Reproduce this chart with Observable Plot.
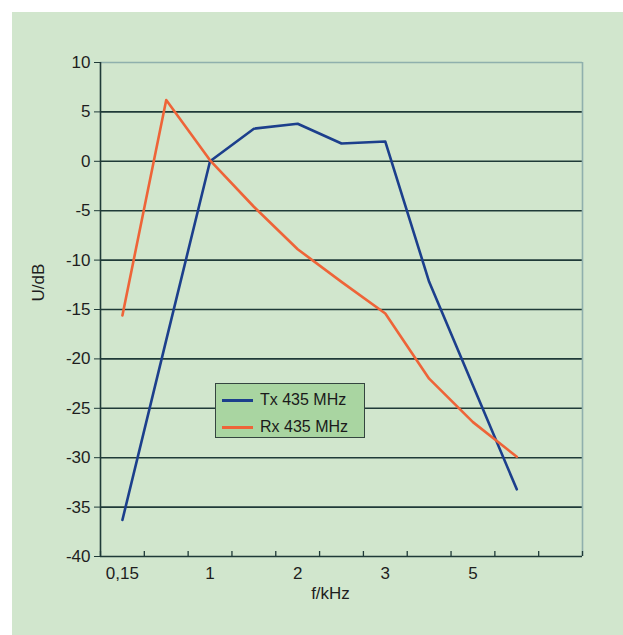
<!DOCTYPE html>
<html><head><meta charset="utf-8">
<script src="https://cdn.jsdelivr.net/npm/d3@7"></script>
<script src="https://cdn.jsdelivr.net/npm/@observablehq/plot@0.6"></script>
<style>
html,body{margin:0;padding:0;background:#fff;}
#wrap{position:relative;width:623px;height:635px;overflow:hidden;}
#panel{position:absolute;left:12px;top:12px;width:611px;height:623px;background:#d1e6cd;}
#chart{position:absolute;left:0;top:0;}
#legend{position:absolute;left:215px;top:383px;width:150px;height:55px;background:#a9d5a1;border:1.5px solid #34453f;font:16px "Liberation Sans",Arial,sans-serif;color:#1a1a1a;box-sizing:border-box;}
.item{position:absolute;left:6px;height:22px;display:flex;align-items:center;white-space:nowrap;}
.swatch{width:31px;height:3px;margin-right:7px;}
</style></head>
<body>
<div id="wrap"><div id="panel"></div><div id="chart"></div><div id="legend"></div></div>
<script>
// categories (x positions 0..10) and their tick labels
const categories = [0,1,2,3,4,5,6,7,8,9,10];
const tickLabels = ["0,15","","1","","2","","3","","5","",""];
// series values (dB)
const txValues = [-36.3,-18.1,0,3.3,3.8,1.8,2.0,-12.2,-22.7,-33.2];
const rxValues = [-15.6,6.2,0.1,-4.6,-8.9,-12.2,-15.4,-22.0,-26.4,-29.9];
const seriesNames = ["Tx 435 MHz","Rx 435 MHz"];
const seriesColors = ["#1c3f8c","#ee6438"];
const yTicks = [-40,-35,-30,-25,-20,-15,-10,-5,0,5,10];

const rows = [];
txValues.forEach((v,i)=>rows.push({s:seriesNames[0], x:categories[i]+0.5, y:v}));
rxValues.forEach((v,i)=>rows.push({s:seriesNames[1], x:categories[i]+0.5, y:v}));

const font = '"Liberation Sans", Arial, sans-serif';
const chart = Plot.plot({
  width: 623, height: 635,
  marginLeft: 100, marginRight: 41, marginTop: 62, marginBottom: 79,
  style: {background: "transparent", fontFamily: font, fontSize: "17px", color: "#1e1e1e"},
  x: {type: "linear", domain: [0, categories.length], axis: null},
  y: {domain: [-40, 10], axis: null},
  color: {domain: seriesNames, range: seriesColors},
  marks: [
    Plot.ruleY(yTicks.filter(d => d > -40 && d < 10), {stroke: "#1f3a38", strokeWidth: 1.6}),
    Plot.ruleY([10], {stroke: "#8fb0ad", strokeWidth: 1.6}),
    Plot.ruleX([categories.length], {stroke: "#8fb0ad", strokeWidth: 1.6}),
    Plot.ruleX([0], {stroke: "#1f3a38", strokeWidth: 1.6}),
    Plot.ruleY([-40], {stroke: "#1f3a38", strokeWidth: 1.6}),
    Plot.axisX(d3.range(0, categories.length + 1), {tickSize: -5, tickFormat: () => "", stroke: "#1f3a38", strokeWidth: 1.3, label: null}),
    Plot.axisX(categories.filter(i => tickLabels[i]).map(i => i + 0.5), {tickSize: 0, tickPadding: 10, tickFormat: d => tickLabels[Math.floor(d)], fontSize: 17, label: null}),
    Plot.axisY(yTicks, {tickSize: 6, tickPadding: 4, stroke: "#1f3a38", fontSize: 17, tickFormat: d => String(d), label: null}),
    Plot.line(rows, {x: "x", y: "y", z: "s", stroke: "s", strokeWidth: 2.6}),
    Plot.text(["U/dB"], {frameAnchor: "left", dx: -62, dy: -8, rotate: -90, fontSize: 17}),
    Plot.text(["f/kHz"], {frameAnchor: "bottom", dx: -11, dy: 42, fontSize: 17})
  ]
});
document.getElementById("chart").appendChild(chart);

const legend = document.getElementById("legend");
seriesNames.forEach((n, i) => {
  const it = document.createElement("div");
  it.className = "item";
  it.style.top = (5 + i * 27) + "px";
  const sw = document.createElement("span");
  sw.className = "swatch";
  sw.style.background = seriesColors[i];
  const t = document.createElement("span");
  t.textContent = n;
  it.appendChild(sw); it.appendChild(t);
  legend.appendChild(it);
});
</script>
</body></html>
